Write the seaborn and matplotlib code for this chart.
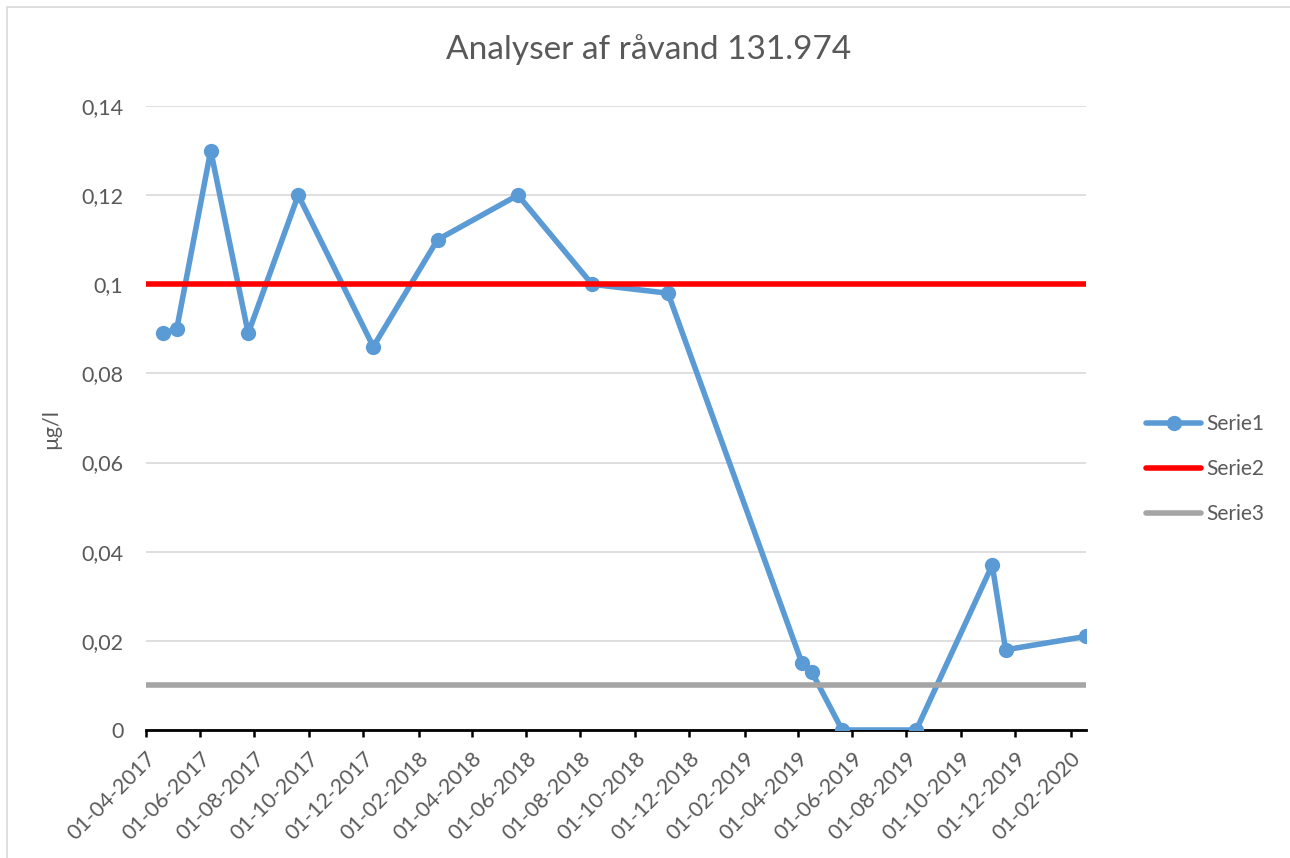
import matplotlib
matplotlib.use("Agg")
import matplotlib.pyplot as plt
import matplotlib.dates as mdates
import matplotlib.patches as mpatches
import numpy as np
import pandas as pd
import seaborn as sns

# ---- data ----
serie1_dates = ["2017-04-21", "2017-05-06", "2017-06-13", "2017-07-25", "2017-09-19",
                "2017-12-12", "2018-02-22", "2018-05-23", "2018-08-14", "2018-11-07",
                "2019-04-06", "2019-04-17", "2019-05-21", "2019-08-12", "2019-11-05",
                "2019-11-20", "2020-02-18"]
serie1_values = [0.089, 0.09, 0.13, 0.089, 0.12, 0.086, 0.11, 0.12, 0.1, 0.098,
                 0.015, 0.013, 0.0, 0.0, 0.037, 0.018, 0.021]
limit_dates = ["2017-04-01", "2020-02-18"]
serie2_values = [0.1, 0.1]
serie3_values = [0.01, 0.01]
y_ticks = [0, 0.02, 0.04, 0.06, 0.08, 0.10, 0.12, 0.14]
y_tick_labels = ["0", "0,02", "0,04", "0,06", "0,08", "0,1", "0,12", "0,14"]
title = "Analyser af råvand 131.974"
y_label = "µg/l"
series_names = ["Serie1", "Serie2", "Serie3"]

df1 = pd.DataFrame({"date": pd.to_datetime(serie1_dates), "value": serie1_values})
df2 = pd.DataFrame({"date": pd.to_datetime(limit_dates), "value": serie2_values})
df3 = pd.DataFrame({"date": pd.to_datetime(limit_dates), "value": serie3_values})

sns.set_theme(style="white")
plt.rcParams["font.family"] = ["Lato", "DejaVu Sans"]
text_color = "#595959"

fig = plt.figure(figsize=(12.9, 8.58), dpi=100)
ax = fig.add_axes([145.5 / 1290, 1 - 730 / 858, (1086 - 145.5) / 1290, (730 - 106) / 858])

sns.lineplot(data=df1, x="date", y="value", ax=ax, color="#5B9BD5", linewidth=4,
             marker="o", markersize=11, markeredgewidth=0, label=series_names[0], zorder=3)
sns.lineplot(data=df2, x="date", y="value", ax=ax, color="#FF0000", linewidth=4,
             label=series_names[1], zorder=4)
sns.lineplot(data=df3, x="date", y="value", ax=ax, color="#A5A5A5", linewidth=4,
             label=series_names[2], zorder=5)

ax.set_xlim(pd.Timestamp(limit_dates[0]), pd.Timestamp(limit_dates[1]))
ax.set_ylim(0, 0.14)

ax.set_yticks(y_ticks)
ax.set_yticklabels(y_tick_labels)
ax.tick_params(axis="y", length=0, pad=16, labelsize=15.5, labelcolor=text_color)

ax.xaxis.set_major_locator(mdates.MonthLocator(bymonth=[2, 4, 6, 8, 10, 12], bymonthday=1))
ax.xaxis.set_major_formatter(mdates.DateFormatter("%d-%m-%Y"))
ax.tick_params(axis="x", direction="out", length=5, width=1.8, color="black",
               pad=8, labelsize=15.5, labelcolor=text_color, bottom=True)
for lab in ax.get_xticklabels():
    lab.set_rotation(45)
    lab.set_ha("right")
    lab.set_va("top")
    lab.set_rotation_mode("anchor")

ax.yaxis.grid(True, color="#D9D9D9", linewidth=1.2)
ax.xaxis.grid(False)
ax.set_axisbelow(True)
for s in ["left", "right", "top"]:
    ax.spines[s].set_visible(False)
ax.spines["bottom"].set_color("black")
ax.spines["bottom"].set_linewidth(2)
ax.spines["bottom"].set_zorder(2)

ax.set_xlabel("")
ax.set_ylabel(y_label, fontsize=15.5, color=text_color)
ax.yaxis.set_label_coords(61 / 1290, 0.5, transform=fig.transFigure)

fig.text(649 / 1290, 1 - 50 / 858, title, ha="center", va="center",
         fontsize=24, color=text_color)

handles, labels = ax.get_legend_handles_labels()
leg = ax.legend(handles, labels, loc="center left",
                bbox_to_anchor=(1146 / 1290, 1 - 469 / 858), bbox_transform=fig.transFigure,
                frameon=False, borderpad=0, handlelength=2.64, handletextpad=0.25,
                labelspacing=1.2, fontsize=15, labelcolor=text_color, borderaxespad=0)

fig.patches.append(mpatches.Rectangle((7 / 1290, -0.1), 2, 1.1 - 7 / 858,
                                      transform=fig.transFigure, fill=False,
                                      edgecolor="#D9D9D9", linewidth=1.2, zorder=0))

fig.savefig("out.png", dpi=100)
